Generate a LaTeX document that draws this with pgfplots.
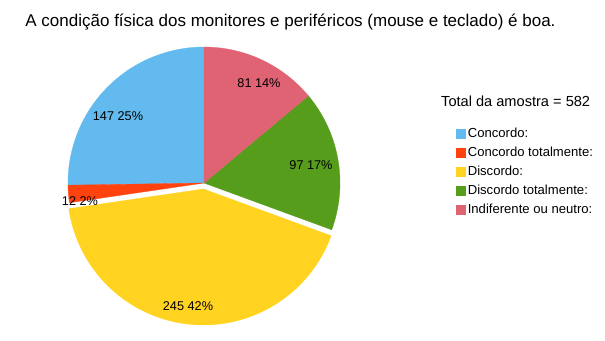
\documentclass[border=0pt]{standalone}
\usepackage{pgfplots}
\pgfplotsset{compat=1.18}
\usepackage{fontspec}
\setmainfont{Liberation Sans}
\definecolor{cBlue}{RGB}{98,186,238}
\definecolor{cRed}{RGB}{255,66,14}
\definecolor{cYellow}{RGB}{255,211,32}
\definecolor{cGreen}{RGB}{87,157,28}
\definecolor{cPink}{RGB}{224,99,116}
% counts
\def\vA{147}\def\vB{12}\def\vC{245}\def\vD{97}\def\vE{81}
\pgfmathsetmacro\tot{\vA+\vB+\vC+\vD+\vE}
\pgfmathsetmacro\aA{90}
\pgfmathsetmacro\aB{\aA+\vA/\tot*360}
\pgfmathsetmacro\aC{\aB+\vB/\tot*360}
\pgfmathsetmacro\aD{\aC+\vC/\tot*360}
\pgfmathsetmacro\aE{\aD+\vD/\tot*360}
\pgfmathsetmacro\aF{\aE+\vE/\tot*360}
\def\cx{204}\def\cy{183}\def\R{136}
% exploded yellow slice centre
\pgfmathsetmacro\mC{(\aC+\aD)/2}
\pgfmathsetmacro\ex{\cx+6*cos(\mC)}
\pgfmathsetmacro\ey{\cy-6*sin(\mC)}
\begin{document}
\begin{tikzpicture}
\begin{axis}[
  scale only axis, width=605pt, height=340pt,
  xmin=0, xmax=605, ymin=0, ymax=340, y dir=reverse,
  hide axis, clip=false,
  legend style={at={(axis cs:456,127)}, anchor=north west, draw=none, fill=none,
    font=\fontsize{13.1}{15}\selectfont, inner sep=0pt, row sep=5.4pt,
    nodes={inner sep=0.8pt, text height=9.5pt, text depth=2.5pt},
    /tikz/every odd column/.append style={column sep=1.5pt}},
  legend cell align=left,
  legend image code/.code={\fill[#1] (0pt,-4.5pt) rectangle (9pt,4.5pt);},
]
\path (axis cs:0,0) rectangle (axis cs:605,340);
\addplot[fill=cBlue, draw=cBlue, line width=0.3pt, domain=\aA:\aB, samples=80, variable=\t]
  ({\cx+\R*cos(\t)},{\cy-\R*sin(\t)}) -- (axis cs:\cx,\cy) -- cycle;
\addlegendentry{Concordo:}
\addplot[fill=cRed, draw=cRed, line width=0.3pt, domain=\aB:\aC, samples=10, variable=\t]
  ({\cx+\R*cos(\t)},{\cy-\R*sin(\t)}) -- (axis cs:\cx,\cy) -- cycle;
\addlegendentry{Concordo totalmente:}
\addplot[fill=cYellow, draw=cYellow, line width=0.3pt, domain=\aC:\aD, samples=120, variable=\t]
  ({\ex+\R*cos(\t)},{\ey-\R*sin(\t)}) -- (axis cs:\ex,\ey) -- cycle;
\addlegendentry{Discordo:}
\addplot[fill=cGreen, draw=cGreen, line width=0.3pt, domain=\aD:\aE, samples=60, variable=\t]
  ({\cx+\R*cos(\t)},{\cy-\R*sin(\t)}) -- (axis cs:\cx,\cy) -- cycle;
\addlegendentry{Discordo totalmente:}
\addplot[fill=cPink, draw=cPink, line width=0.3pt, domain=\aE:\aF, samples=60, variable=\t]
  ({\cx+\R*cos(\t)},{\cy-\R*sin(\t)}) -- (axis cs:\cx,\cy) -- cycle;
\addlegendentry{Indiferente ou neutro:}
% slice labels
\begin{scope}[font=\fontsize{12.7}{14}\selectfont]
\node at (axis cs:118,116) {147 25\%};
\node at (axis cs:80,201) {12 2\%};
\node at (axis cs:188,306) {245 42\%};
\node at (axis cs:311,165) {97 17\%};
\node at (axis cs:259,83) {81 14\%};
\end{scope}
\node[font=\fontsize{17}{19}\selectfont] at (axis cs:290.5,22) {A condição física dos monitores e periféricos (mouse e teclado) é boa.};
\node[font=\fontsize{14.6}{16}\selectfont, anchor=west, inner sep=0pt] at (axis cs:441,101) {Total da amostra = 582};
\end{axis}
\end{tikzpicture}
\end{document}
